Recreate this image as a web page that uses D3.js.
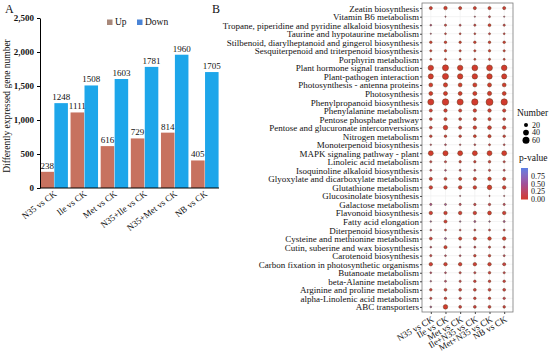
<!DOCTYPE html>
<html><head><meta charset="utf-8">
<script src="https://cdn.jsdelivr.net/npm/d3@7"></script>
<style>body{margin:0;background:#fff}svg{display:block}text{font-family:"Liberation Serif","Times New Roman",serif;fill:#111}</style>
</head><body><svg id="c" width="550" height="359"></svg>
<script>
// ---------- Panel A data ----------
const barCategories = ["N35 vs CK","Ile vs CK","Met vs CK","N35+Ile vs CK","N35+Met vs CK","NB vs CK"];
const upValues   = [238,1111,616,729,814,405];
const downValues = [1248,1508,1603,1781,1960,1705];
const yTicksA = [0,500,1000,1500,2000,2500];

// ---------- Panel B data ----------
const dotGroups = ["N35 vs CK","Ile vs CK","Met vs CK","Ile+N35 vs CK","Met+N35 vs CK","NB vs CK"];
const pathways = ["Zeatin biosynthesis","Vitamin B6 metabolism","Tropane, piperidine and pyridine alkaloid biosynthesis",
"Taurine and hypotaurine metabolism","Stilbenoid, diarylheptanoid and gingerol biosynthesis","Sesquiterpenoid and triterpenoid biosynthesis",
"Porphyrin metabolism","Plant hormone signal transduction","Plant-pathogen interaction","Photosynthesis - antenna proteins",
"Photosynthesis","Phenylpropanoid biosynthesis","Phenylalanine metabolism","Pentose phosphate pathway",
"Pentose and glucuronate interconversions","Nitrogen metabolism","Monoterpenoid biosynthesis","MAPK signaling pathway - plant",
"Linoleic acid metabolism","Isoquinoline alkaloid biosynthesis","Glyoxylate and dicarboxylate metabolism","Glutathione metabolism",
"Glucosinolate biosynthesis","Galactose metabolism","Flavonoid biosynthesis","Fatty acid elongation","Diterpenoid biosynthesis",
"Cysteine and methionine metabolism","Cutin, suberine and wax biosynthesis","Carotenoid biosynthesis",
"Carbon fixation in photosynthetic organisms","Butanoate metabolism","beta-Alanine metabolism","Arginine and proline metabolism",
"alpha-Linolenic acid metabolism","ABC transporters"];
const numbers = [
[12,15,12,12,12,12],
[null,2,null,2,5,2],
[4,6,5,6,10,6],
[2,4,4,4,5,4],
[8,8,7,8,8,8],
[6,7,6,6,7,6],
[5,5,5,5,6,5],
[36,45,36,42,42,38],
[32,45,35,36,36,32],
[18,22,18,20,20,18],
[18,20,18,20,22,18],
[45,52,46,50,60,50],
[12,14,12,14,15,13],
[10,12,10,12,12,10],
[10,25,12,15,18,15],
[8,8,8,10,12,8],
[3,4,3,4,5,4],
[30,32,30,30,30,30],
[6,6,7,7,8,6],
[5,4,5,5,6,5],
[12,10,12,12,15,12],
[15,15,15,15,25,15],
[null,null,2,null,2,2],
[6,5,6,7,7,6],
[15,15,15,15,18,15],
[3,12,3,5,3,5],
[4,5,4,5,5,5],
[10,5,12,12,15,15],
[4,12,4,5,6,5],
[6,4,4,8,8,5],
[15,15,15,15,15,12],
[4,4,6,6,8,6],
[3,5,6,8,8,8],
[8,10,10,10,10,10],
[6,8,7,8,8,7],
[4,25,10,10,10,8]];
const pvalues = [
[0.05,0.03,0.05,0.05,0.05,0.05],
[null,0.6,null,0.6,0.3,0.6],
[0.5,0.2,0.3,0.2,0.05,0.2],
[0.6,0.2,0.2,0.2,0.2,0.2],
[0.05,0.05,0.05,0.05,0.05,0.05],
[0.1,0.05,0.1,0.1,0.05,0.1],
[0.1,0.1,0.1,0.1,0.1,0.1],
[0.01,0.01,0.01,0.01,0.01,0.01],
[0.01,0.01,0.01,0.01,0.01,0.01],
[0.01,0.01,0.01,0.01,0.01,0.01],
[0.01,0.01,0.01,0.01,0.01,0.01],
[0.01,0.01,0.01,0.01,0.01,0.01],
[0.05,0.05,0.05,0.05,0.05,0.05],
[0.1,0.05,0.1,0.05,0.05,0.1],
[0.1,0.02,0.1,0.05,0.05,0.05],
[0.1,0.1,0.1,0.05,0.05,0.1],
[0.4,0.4,0.4,0.3,0.2,0.3],
[0.01,0.01,0.01,0.01,0.01,0.01],
[0.2,0.2,0.1,0.1,0.1,0.2],
[0.3,0.5,0.3,0.3,0.2,0.3],
[0.05,0.1,0.05,0.05,0.02,0.05],
[0.05,0.05,0.05,0.05,0.01,0.05],
[null,null,0.7,null,0.6,0.6],
[0.5,0.6,0.3,0.2,0.2,0.3],
[0.05,0.05,0.05,0.05,0.02,0.05],
[0.8,0.05,0.8,0.6,0.8,0.6],
[0.4,0.2,0.3,0.2,0.2,0.2],
[0.1,0.7,0.05,0.05,0.02,0.02],
[0.4,0.05,0.4,0.3,0.2,0.3],
[0.2,0.4,0.4,0.1,0.1,0.3],
[0.05,0.05,0.05,0.05,0.05,0.1],
[0.4,0.4,0.2,0.2,0.1,0.2],
[0.7,0.4,0.2,0.1,0.1,0.1],
[0.1,0.1,0.1,0.1,0.1,0.1],
[0.2,0.1,0.2,0.1,0.1,0.2],
[0.7,0.01,0.1,0.1,0.1,0.1]];
const sizeLegend = [20,40,60];
const colorTicks = [0,0.25,0.5,0.75];

const svg = d3.select("#c");

// ================= Panel A =================
const A = {l:40, r:219, t:18, b:188};
const x0 = d3.scaleBand().domain(barCategories).range([A.l, A.r]).paddingInner(0.06).paddingOuter(0);
const x1 = d3.scaleBand().domain(["Up","Down"]).range([0, x0.bandwidth()]).padding(0.03);
const yA = d3.scaleLinear().domain([0,2500]).range([A.b, A.t]);
const colA = {Up:"#c7725f", Down:"#1da6ea"};

const gA = svg.append("g");
const rows = barCategories.map((c,i)=>({c, Up:upValues[i], Down:downValues[i]}));
const grp = gA.selectAll("g.grp").data(rows).join("g").attr("transform",d=>`translate(${x0(d.c)},0)`);
grp.selectAll("rect").data(d=>["Up","Down"].map(k=>({k,v:d[k]}))).join("rect")
  .attr("x",d=>x1(d.k)).attr("width",x1.bandwidth())
  .attr("y",d=>yA(d.v)).attr("height",d=>yA(0)-yA(d.v)).attr("fill",d=>colA[d.k]);
grp.selectAll("text").data(d=>["Up","Down"].map(k=>({k,v:d[k]}))).join("text")
  .attr("x",d=>x1(d.k)+x1.bandwidth()/2).attr("y",d=>yA(d.v)-3)
  .attr("text-anchor","middle").attr("font-size",9).text(d=>d.v);

const yAxA = gA.append("g").attr("transform",`translate(${A.l},0)`)
  .call(d3.axisLeft(yA).tickValues(yTicksA).tickSize(3).tickSizeOuter(0));
yAxA.selectAll("text").attr("font-size",9).attr("font-family","Liberation Serif").attr("font-weight","bold").attr("fill","#222");
yAxA.select(".domain").attr("stroke","#000");
const xAxA = gA.append("g").attr("transform",`translate(0,${A.b})`)
  .call(d3.axisBottom(x0).tickSize(0).tickSizeOuter(0));
xAxA.select(".domain").attr("stroke","#000").attr("d",`M${A.l},0H${A.r}`);
xAxA.selectAll("text").attr("font-size",9).attr("font-family","Liberation Serif")
  .attr("text-anchor","end").attr("dy",0).attr("y",0)
  .attr("transform","translate(3,7) rotate(-37)");

gA.append("text").attr("transform",`translate(10,${(A.t+A.b)/2+3}) rotate(-90)`)
  .attr("text-anchor","middle").attr("font-size",9.5).text("Differently expressed gene number");
// legend
const legA = gA.append("g");
[["Up",107,"#a8887a"],["Down",137,"#4a84d6"]].forEach(([k,x,c])=>{
  legA.append("rect").attr("x",x).attr("y",19.5).attr("width",5.5).attr("height",5.5).attr("fill",c);
  legA.append("text").attr("x",x+8).attr("y",25).attr("font-size",9.5).text(k);
});
svg.append("text").attr("x",5).attr("y",13).attr("font-size",12).text("A");
svg.append("text").attr("x",212).attr("y",13).attr("font-size",12).text("B");

// ================= Panel B =================
const B = {l:422, r:513, t:3, b:312};
const xB = d3.scalePoint().domain(dotGroups).range([B.l, B.r]).padding(0.6);
const yB = d3.scalePoint().domain(pathways).range([B.t, B.b]).padding(0.6);
const rB = d3.scaleSqrt().domain([0,60]).range([0,3.5]);
const cB = d3.scaleLinear().domain([0,0.5,1]).range(["#d23a2c","#a0509a","#5a7fe6"]).interpolate(d3.interpolateLab);

const gB = svg.append("g");
gB.append("rect").attr("x",B.l).attr("y",B.t).attr("width",B.r-B.l).attr("height",B.b-B.t).attr("fill","#fff");
gB.selectAll("line.h").data(pathways).join("line").attr("x1",B.l).attr("x2",B.r)
  .attr("y1",d=>yB(d)).attr("y2",d=>yB(d)).attr("stroke","#ececec").attr("stroke-width",0.6);
gB.selectAll("line.v").data(dotGroups).join("line").attr("y1",B.t).attr("y2",B.b)
  .attr("x1",d=>xB(d)).attr("x2",d=>xB(d)).attr("stroke","#ececec").attr("stroke-width",0.6);

const cells = [];
pathways.forEach((p,i)=>dotGroups.forEach((g,j)=>{
  if(numbers[i][j]!=null) cells.push({p,g,n:numbers[i][j],pv:pvalues[i][j]});
}));
gB.selectAll("circle.d").data(cells).join("circle")
  .attr("cx",d=>xB(d.g)).attr("cy",d=>yB(d.p)).attr("r",d=>rB(d.n))
  .attr("fill",d=>cB(d.pv)).attr("stroke","#6a3c1c").attr("stroke-opacity",0.85).attr("stroke-width",0.6);
gB.append("rect").attr("x",B.l).attr("y",B.t).attr("width",B.r-B.l).attr("height",B.b-B.t)
  .attr("fill","none").attr("stroke","#7a7a7a").attr("stroke-width",0.8);

const yAxB = gB.append("g").attr("transform",`translate(${B.l},0)`)
  .call(d3.axisLeft(yB).tickSize(2).tickSizeOuter(0));
yAxB.select(".domain").remove();
yAxB.selectAll("line").attr("stroke","#444");
yAxB.selectAll("text").attr("font-size",9).attr("font-family","Liberation Serif").attr("fill","#111").attr("x",-3).attr("dy","0.33em");
const xAxB = gB.append("g").attr("transform",`translate(0,${B.b})`)
  .call(d3.axisBottom(xB).tickSize(2).tickSizeOuter(0));
xAxB.select(".domain").remove();
xAxB.selectAll("line").attr("stroke","#444");
xAxB.selectAll("text").attr("font-size",9).attr("font-family","Liberation Serif").attr("fill","#111")
  .attr("text-anchor","end").attr("dy",0).attr("y",0).attr("transform","translate(3,9) rotate(-30)");

// size legend
const lg = svg.append("g");
lg.append("text").attr("x",517).attr("y",116).attr("font-size",9.5).text("Number");
sizeLegend.forEach((v,i)=>{
  const y = 125 + i*7.6;
  lg.append("circle").attr("cx",526).attr("cy",y).attr("r",rB(v)).attr("fill","#000");
  lg.append("text").attr("x",532).attr("y",y+2.8).attr("font-size",8).text(v);
});
// colour legend
lg.append("text").attr("x",519).attr("y",161).attr("font-size",9.5).text("p-value");
const cy = d3.scaleLinear().domain([0,1]).range([199.5,168]);
const defs = svg.append("defs");
const gradient = defs.append("linearGradient").attr("id","pg").attr("x1",0).attr("y1",1).attr("x2",0).attr("y2",0);
d3.range(0,1.01,0.1).forEach(t=>gradient.append("stop").attr("offset",t).attr("stop-color",cB(t)));
lg.append("rect").attr("x",521).attr("y",cy(1)).attr("width",7).attr("height",cy(0)-cy(1)).attr("fill","url(#pg)");
colorTicks.forEach(t=>{
  lg.append("text").attr("x",531).attr("y",cy(t)+2.8).attr("font-size",8).text(t.toFixed(2));
});
</script></body></html>
